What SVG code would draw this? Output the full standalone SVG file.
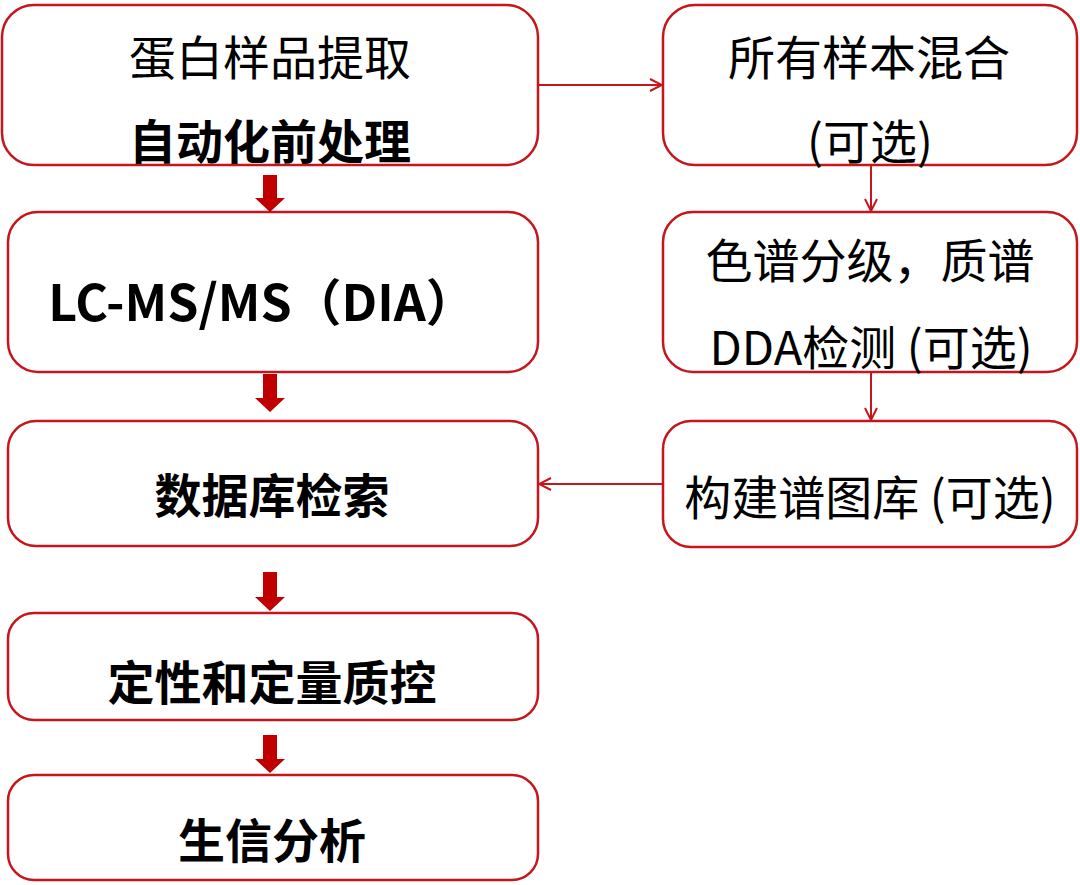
<svg xmlns="http://www.w3.org/2000/svg" width="1080" height="885" viewBox="0 0 1080 885">
<defs>
<style>
.box{fill:#ffffff;stroke:#C4161C;stroke-width:2.5}
.t{font-family:"Noto Sans CJK SC","Microsoft YaHei",sans-serif;font-size:47px;fill:#000;text-anchor:middle;dominant-baseline:central}
.b{font-weight:bold}
.thin{stroke:#C4161C;stroke-width:2;fill:none}
.big{fill:#C00000}
</style>
<marker id="open" viewBox="0 0 14 14" refX="13" refY="7" markerWidth="14" markerHeight="14" markerUnits="userSpaceOnUse" orient="auto">
<path d="M1,1 L13,7 L1,13" fill="none" stroke="#C4161C" stroke-width="2"/>
</marker>
</defs>
<rect width="1080" height="885" fill="#ffffff"/>
<g id="n1"><rect class="box" x="2" y="5" width="536" height="160" rx="32"/><text class="t" x="270" y="54">蛋白样品提取</text><text class="t b" x="270" y="138">自动化前处理</text></g>
<g id="n2"><rect class="box" x="663" y="5" width="414" height="160" rx="32"/><text class="t" x="869" y="54">所有样本混合</text><text class="t" x="870" y="138">(可选)</text></g>
<g id="n3"><rect class="box" x="8" y="212" width="530" height="160" rx="30"/><text class="t b" x="262" y="299" style="font-size:50px">LC-MS/MS（DIA）</text></g>
<g id="n4"><rect class="box" x="663" y="212" width="414" height="160" rx="30"/><text class="t" x="870" y="257">色谱分级，质谱</text><text class="t" x="871" y="344">DDA检测 (可选)</text></g>
<g id="n5"><rect class="box" x="8" y="421" width="530" height="125" rx="28"/><text class="t b" x="272" y="492">数据库检索</text></g>
<g id="n6"><rect class="box" x="663" y="421" width="414" height="126" rx="28"/><text class="t" x="870" y="494">构建谱图库 (可选)</text></g>
<g id="n7"><rect class="box" x="8" y="613" width="530" height="107" rx="26"/><text class="t b" x="272" y="679">定性和定量质控</text></g>
<g id="n8"><rect class="box" x="8" y="775" width="530" height="105" rx="26"/><text class="t b" x="272" y="837">生信分析</text></g>
<g id="connectors">
<line class="thin" x1="538" y1="85" x2="662" y2="85" marker-end="url(#open)"/>
<line class="thin" x1="871" y1="165" x2="871" y2="211" marker-end="url(#open)"/>
<line class="thin" x1="871" y1="372" x2="871" y2="420" marker-end="url(#open)"/>
<line class="thin" x1="663" y1="484" x2="539" y2="484" marker-end="url(#open)"/>
<polygon class="big" points="263,175 277,175 277,198 285,198 270,212 255,198 263,198"/>
<polygon class="big" points="263,374 277,374 277,398 285,398 270,412 255,398 263,398"/>
<polygon class="big" points="263,572 277,572 277,597 285,597 270,611 255,597 263,597"/>
<polygon class="big" points="263,735 277,735 277,759 285,759 270,773 255,759 263,759"/>
</g>
</svg>
